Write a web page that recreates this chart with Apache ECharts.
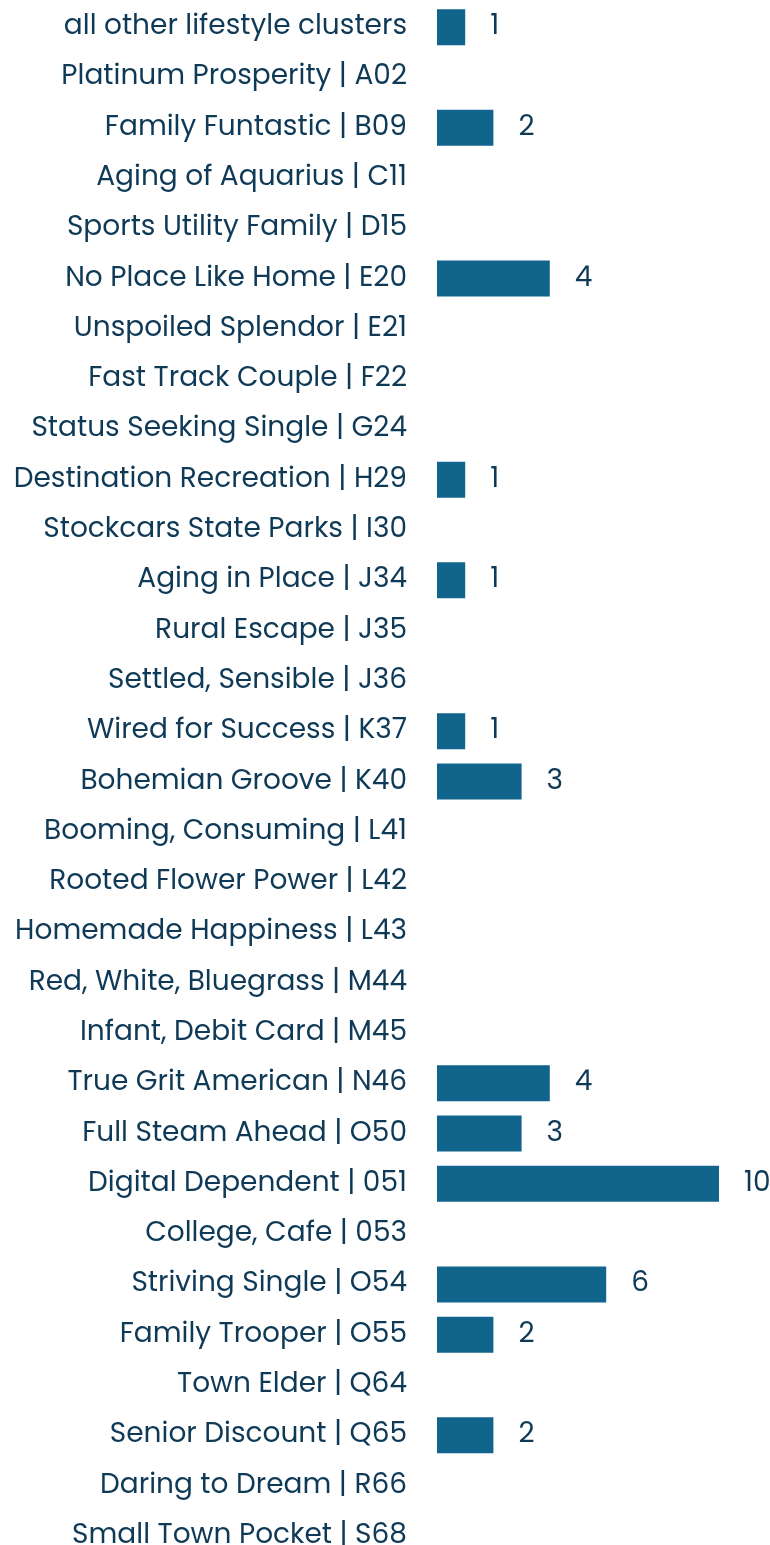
<!DOCTYPE html>
<html>
<head>
<meta charset="utf-8">
<style>
  html, body { margin: 0; padding: 0; background: #fff; }
  #chart { width: 770px; height: 1545px; }
</style>
<script src="https://cdn.jsdelivr.net/npm/echarts@6/dist/echarts.min.js"></script>
</head>
<body>
<div id="chart"></div>
<script>
// lifestyle clusters, top to bottom
const clusters = [
  'all other lifestyle clusters',
  'Platinum Prosperity | A02',
  'Family Funtastic | B09',
  'Aging of Aquarius | C11',
  'Sports Utility Family | D15',
  'No Place Like Home | E20',
  'Unspoiled Splendor | E21',
  'Fast Track Couple | F22',
  'Status Seeking Single | G24',
  'Destination Recreation | H29',
  'Stockcars State Parks | I30',
  'Aging in Place | J34',
  'Rural Escape | J35',
  'Settled, Sensible | J36',
  'Wired for Success | K37',
  'Bohemian Groove | K40',
  'Booming, Consuming | L41',
  'Rooted Flower Power | L42',
  'Homemade Happiness | L43',
  'Red, White, Bluegrass | M44',
  'Infant, Debit Card | M45',
  'True Grit American | N46',
  'Full Steam Ahead | O50',
  'Digital Dependent | 051',
  'College, Cafe | 053',
  'Striving Single | O54',
  'Family Trooper | O55',
  'Town Elder | Q64',
  'Senior Discount | Q65',
  'Daring to Dream | R66',
  'Small Town Pocket | S68'
]
const counts = [1, 0, 2, 0, 0, 4, 0, 0, 0, 1, 0, 1, 0, 0, 1, 3, 0, 0, 0, 0, 0, 4, 3, 10, 0, 6, 2, 0, 2, 0, 0]

const textColor = '#0f3a57'
const barColor = '#11648b'
const fontFamily = 'Poppins, "Noto Sans", sans-serif'

const chart = echarts.init(document.getElementById('chart'))
chart.setOption({
  animation: false,
  grid: {
    left: 437,
    top: 2,
    width: 282,
    height: 1559,
    outerBoundsMode: 'none'
  },
  xAxis: {
    type: 'value',
    min: 0,
    max: 10,
    show: false
  },
  yAxis: {
    type: 'category',
    inverse: true,
    data: clusters,
    axisLine: { show: false },
    axisTick: { show: false },
    axisLabel: {
      margin: 30,
      color: textColor,
      fontSize: 28,
      fontFamily: fontFamily
    }
  },
  series: [
    {
      type: 'bar',
      data: counts,
      barWidth: 36,
      itemStyle: { color: barColor },
      label: {
        show: true,
        position: 'right',
        distance: 25,
        color: textColor,
        fontSize: 28,
        fontFamily: fontFamily,
        formatter: function(p) {
          return p.value ? String(p.value) : ''
        }
      }
    }
  ]
})
</script>
</body>
</html>
